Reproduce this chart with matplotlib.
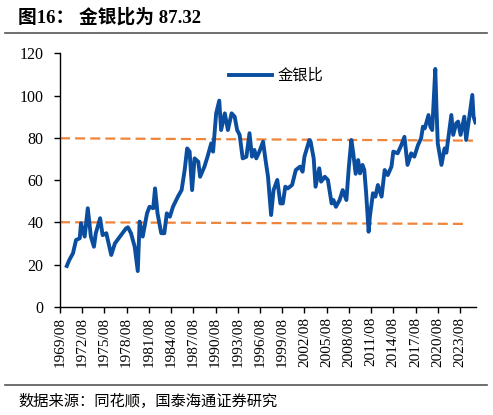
import matplotlib
matplotlib.use("Agg")
import matplotlib.pyplot as plt
import numpy as np

dates = ["1970/07","1970/11","1971/05","1971/10","1972/04","1972/06","1972/12","1973/05","1973/10",
         "1974/03","1974/06","1975/01","1975/05","1975/11","1976/07","1977/01","1977/11","1978/07",
         "1978/10","1979/03","1979/09","1980/02","1980/05","1980/10","1981/05","1981/09","1982/03",
         "1982/06","1982/10","1983/04","1983/09","1984/01","1984/06","1984/11","1985/07","1986/01",
         "1986/06","1986/10","1987/02","1987/06","1987/10","1988/04","1988/07","1989/02","1989/07",
         "1990/01","1990/04","1990/09","1991/02","1991/05","1991/11","1992/04","1992/10","1993/03",
         "1993/07","1993/11","1994/04","1994/10","1995/03","1995/07","1995/11","1996/02","1996/07",
         "1997/01","1997/05","1997/09","1998/02","1998/06","1998/12","1999/05","1999/09","2000/01",
         "2000/05","2000/12","2001/06","2002/01","2002/05","2002/08","2003/04","2003/06","2003/11",
         "2004/02","2004/08","2004/11","2005/05","2005/10","2006/04","2006/07","2006/11","2007/05",
         "2007/10","2008/04","2008/08","2008/12","2009/03","2009/07","2009/11","2010/02","2010/06",
         "2010/09","2010/12","2011/04","2011/06","2011/11","2012/03","2012/07","2013/01","2013/06",
         "2013/11","2014/05","2014/08","2015/03","2015/09","2016/02","2016/07","2017/01","2017/06",
         "2017/12","2018/05","2018/08","2018/11","2019/05","2019/08","2019/11","2020/04","2020/06",
         "2020/08","2021/02","2021/07","2021/10","2022/06","2022/09","2023/02","2023/05","2023/09",
         "2024/03","2024/06","2024/09","2025/04","2025/06","2025/09"]
ratio = [19.4,22.2,25.4,31.7,32.5,39.6,33.3,46.7,33.3,
         28.5,34.9,42.0,34.0,34.9,24.6,30.1,34.0,37.2,
         37.7,34.9,28.5,17.0,40.4,33.3,44.3,47.4,46.7,
         56.1,44.3,34.9,34.9,44.3,42.7,47.4,52.2,55.3,
         64.8,75.0,73.5,55.3,70.3,68.7,61.6,66.4,71.1,
         77.4,73.5,91.6,97.6,83.7,91.6,83.7,91.6,90.0,
         83.7,81.4,70.3,71.1,82.2,71.1,74.3,70.3,73.5,
         78.2,69.5,61.6,43.5,55.3,60.1,49.0,49.0,56.9,
         56.1,57.7,64.8,66.4,64.0,71.1,79.0,78.2,70.3,
         56.9,65.6,59.3,61.6,60.1,49.0,50.6,47.4,50.6,
         55.3,50.6,66.4,79.0,73.0,63.0,69.5,63.2,67.2,
         64.8,53.8,35.6,42.7,53.8,52.2,57.7,52.2,64.8,
         62.4,66.4,73.5,72.7,76.6,80.5,67.2,72.7,71.1,
         76.6,79.8,85.3,84.5,90.8,85.3,83.7,112.6,93.2,
         77.4,67.2,75.0,73.0,90.8,81.4,86.9,87.7,81.4,
         90.0,79.0,85.3,100.3,90.0,87.32]

upper_dates = ["1969/08", "2025/05"]
upper_vals = [79.8, 78.7]
lower_dates = ["1969/08", "2024/07"]
lower_vals = [40.1, 39.3]

tick_labels = ["1969/08","1972/08","1975/08","1978/08","1981/08","1984/08","1987/08","1990/08",
               "1993/08","1996/08","1999/08","2002/08","2005/08","2008/08","2011/08","2014/08",
               "2017/08","2020/08","2023/08"]

def to_year(s):
    y, m = s.split("/")
    return int(y) + (int(m) - 1) / 12.0

serif = ["Liberation Serif", "Noto Sans CJK SC", "DejaVu Sans"]
cjk = ["Noto Sans CJK SC", "DejaVu Sans"]

fig = plt.figure(figsize=(4.93, 4.15), dpi=100)
ax = fig.add_axes([60/493, 1-307/415, 416/493, (307-53.3)/415])

blue = "#0B4EA0"
orange = "#F0843A"

ax.plot([to_year(d) for d in upper_dates], upper_vals, color=orange, lw=1.6, dashes=(4.5, 2.3))
ax.plot([to_year(d) for d in lower_dates], lower_vals, color=orange, lw=1.6, dashes=(4.5, 2.3))
ax.plot([to_year(d) for d in dates], ratio, color=blue, lw=2.8, label="金银比",
        solid_joinstyle="round")

ax.set_xlim(to_year("1969/08"), to_year("1969/08") + 416/7.407)
ax.set_ylim(0, 120)
ax.set_yticks(np.arange(0, 121, 20))
ax.set_xticks([to_year(t) for t in tick_labels])
ax.set_xticklabels(tick_labels, rotation=90, family=serif, fontsize=11)
for lab in ax.get_yticklabels():
    lab.set_family(serif)
    lab.set_fontsize(11.5)
ax.tick_params(axis="y", length=4, width=1, pad=8, direction="out")
ax.tick_params(axis="x", length=4, width=1, pad=3, direction="out")
for s in ["top", "right"]:
    ax.spines[s].set_visible(False)
for s in ["left", "bottom"]:
    ax.spines[s].set_linewidth(1.0)
    ax.spines[s].set_color("black")

ax.legend(loc="upper left", bbox_to_anchor=(155/416, 1.0), frameon=False,
          handlelength=2.8, handletextpad=0.4, prop={"family": cjk, "size": 11})

fig.text(18/493, 1-17/415, "图16： 金银比为 87.32", family=serif, fontsize=13.5,
         fontweight="bold", va="center", ha="left")
fig.add_artist(plt.Line2D([5/493, 487/493], [1-33/415, 1-33/415], color="#555555", lw=1.2))
fig.add_artist(plt.Line2D([5/493, 487/493], [1-385/415, 1-385/415], color="#555555", lw=1.2))
fig.text(18/493, 1-401/415, "数据来源：同花顺，国泰海通证券研究", family=cjk, fontsize=11,
         va="center", ha="left")

fig.savefig("out.png", dpi=100)
